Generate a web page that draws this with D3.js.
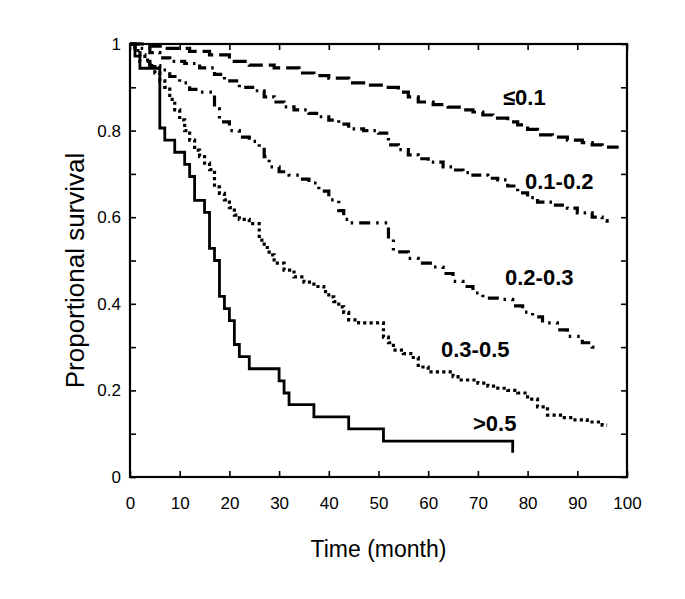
<!DOCTYPE html>
<html><head><meta charset="utf-8">
<script src="https://cdn.jsdelivr.net/npm/d3@7"></script>
<style>body{margin:0;background:#fff}svg{display:block}text{font-family:"Liberation Sans",Arial,Helvetica,sans-serif}</style>
</head><body><svg id="c" width="685" height="599"></svg>
<script>
const xTicks = [0,10,20,30,40,50,60,70,80,90,100];
const yTickLabels = ["0","0.2","0.4","0.6","0.8","1"];
const seriesNames = ["\u22640.1","0.1-0.2","0.2-0.3","0.3-0.5",">0.5"];

// [time, survival] step points for each group
const s01 = [[0,1],[4,0.995],[7,0.99],[12,0.983],[16,0.975],[20,0.96],[24,0.951],[29,0.945],[34,0.933],[37,0.927],[40,0.921],[44,0.91],[47,0.905],[51,0.9],[54,0.889],[56,0.878],[58,0.866],[61,0.86],[64,0.854],[67,0.848],[69,0.843],[71,0.836],[73,0.829],[76,0.82],[78,0.813],[80,0.803],[82,0.79],[85,0.785],[88,0.778],[91,0.772],[93,0.767],[95,0.762],[98,0.758]];
const s12 = [[0,1],[2,0.99],[4,0.98],[6,0.968],[8,0.96],[11,0.955],[14,0.945],[17,0.93],[19,0.915],[22,0.9],[25,0.892],[27,0.878],[29,0.866],[31,0.855],[33,0.848],[36,0.84],[38,0.832],[40,0.824],[42,0.815],[44,0.804],[47,0.8],[50,0.794],[52,0.767],[54,0.756],[56,0.744],[58,0.735],[60,0.727],[63,0.716],[65,0.709],[67,0.703],[69,0.697],[72,0.69],[74,0.686],[76,0.672],[78,0.656],[80,0.645],[82,0.635],[85,0.628],[88,0.621],[90,0.61],[93,0.6],[95,0.592],[96,0.587]];
const s23 = [[0,1],[1,0.985],[2,0.96],[4,0.95],[6,0.94],[8,0.925],[10,0.91],[12,0.895],[14,0.889],[17,0.85],[18,0.82],[20,0.8],[22,0.785],[24,0.775],[26,0.762],[27,0.74],[28,0.716],[30,0.705],[32,0.697],[34,0.688],[36,0.679],[38,0.66],[40,0.64],[42,0.615],[43,0.595],[44,0.587],[52,0.55],[53,0.52],[56,0.505],[58,0.494],[61,0.485],[63,0.47],[65,0.452],[67,0.44],[69,0.425],[71,0.413],[75,0.41],[77,0.395],[79,0.381],[81,0.37],[83,0.356],[86,0.34],[88,0.325],[91,0.31],[93,0.3],[94,0.3]];
const s35 = [[0,1],[1,0.985],[2,0.975],[3,0.963],[4,0.948],[5,0.933],[6,0.915],[7,0.9],[8,0.872],[9,0.848],[10,0.825],[11,0.8],[12,0.778],[13,0.755],[14,0.74],[15,0.725],[16,0.71],[17,0.67],[18,0.655],[19,0.64],[20,0.622],[21,0.605],[22,0.595],[24,0.585],[26,0.547],[27,0.53],[28,0.513],[29,0.494],[31,0.478],[33,0.462],[35,0.45],[37,0.44],[39,0.428],[40,0.416],[41,0.405],[42,0.393],[43,0.38],[44,0.363],[46,0.356],[51,0.323],[52,0.31],[53,0.293],[55,0.285],[57,0.276],[58,0.254],[60,0.243],[65,0.232],[66,0.224],[70,0.217],[72,0.21],[74,0.205],[76,0.2],[78,0.194],[80,0.18],[82,0.162],[84,0.143],[87,0.137],[89,0.132],[92,0.127],[95,0.12],[96,0.12]];
const s05 = [[0,1],[1,0.972],[2,0.944],[6,0.806],[7,0.778],[9,0.75],[11,0.722],[12,0.694],[13,0.639],[15,0.611],[16,0.528],[17,0.5],[18,0.417],[19,0.389],[20,0.361],[21,0.306],[22,0.278],[24,0.25],[30,0.222],[31,0.194],[32,0.167],[37,0.139],[44,0.111],[51,0.083],[77,0.083],[77,0.056]];
const allSeries = [s01,s12,s23,s35,s05];
const dashes = ["14,6","10,5,2.5,5","11,6,2.5,6,2.5,6","3.2,3.2",null];
const labelPos = [[503,105],[525,189],[505,285],[441,357],[473,431]];

const svg = d3.select("#c");
const x = d3.scaleLinear().domain([0,100]).range([130,627]);
const y = d3.scaleLinear().domain([0,1]).range([477,44]);
const yTickVals = d3.range(0,1.0001,0.1);
const g = svg.append("g");

// frame
g.append("rect").attr("x",x(0)).attr("y",y(1)).attr("width",x(100)-x(0)).attr("height",y(0)-y(1))
 .attr("fill","none").attr("stroke","#000").attr("stroke-width",2.2);

const tl = 6;
const axB = d3.axisBottom(x).tickValues(xTicks).tickSize(-tl).tickPadding(20).tickFormat(d3.format("d"));
const axT = d3.axisTop(x).tickValues(xTicks).tickSize(-tl).tickFormat("");
const axL = d3.axisLeft(y).tickValues(yTickVals).tickSize(-tl).tickPadding(9)
  .tickFormat(d => { const i = Math.round(d*10); return i%2===0 ? yTickLabels[i/2] : ""; });
const axR = d3.axisRight(y).tickValues(yTickVals).tickSize(-tl).tickFormat("");
function style(sel){ sel.select(".domain").remove(); sel.selectAll("line").attr("stroke","#000").attr("stroke-width",1.6);
  sel.selectAll("text").attr("font-size",17).attr("fill","#000").style("font-family",'"Liberation Sans",Arial,sans-serif'); }
g.append("g").attr("transform",`translate(0,${y(0)})`).call(axB).call(style);
g.append("g").attr("transform",`translate(0,${y(1)})`).call(axT).call(style);
g.append("g").attr("transform",`translate(${x(0)},0)`).call(axL).call(style);
g.append("g").attr("transform",`translate(${x(100)},0)`).call(axR).call(style);

const line = d3.line().x(d=>x(d[0])).y(d=>y(d[1])).curve(d3.curveStepAfter);
allSeries.forEach((s,i)=>{
  g.append("path").datum(s).attr("d",line).attr("fill","none").attr("stroke","#000")
   .attr("stroke-width", i===4?2.8:3.2).attr("stroke-dasharray",dashes[i]);
});

seriesNames.forEach((n,i)=>{
  g.append("text").attr("x",labelPos[i][0]).attr("y",labelPos[i][1]).attr("font-size",22)
   .attr("font-weight","bold").text(n);
});

svg.append("text").attr("x",(x(0)+x(100))/2).attr("y",557).attr("text-anchor","middle").attr("font-size",23).text("Time (month)");
svg.append("text").attr("transform",`translate(84,${(y(0)+y(1))/2+10}) rotate(-90)`).attr("text-anchor","middle").attr("font-size",26).text("Proportional survival");
</script></body></html>
